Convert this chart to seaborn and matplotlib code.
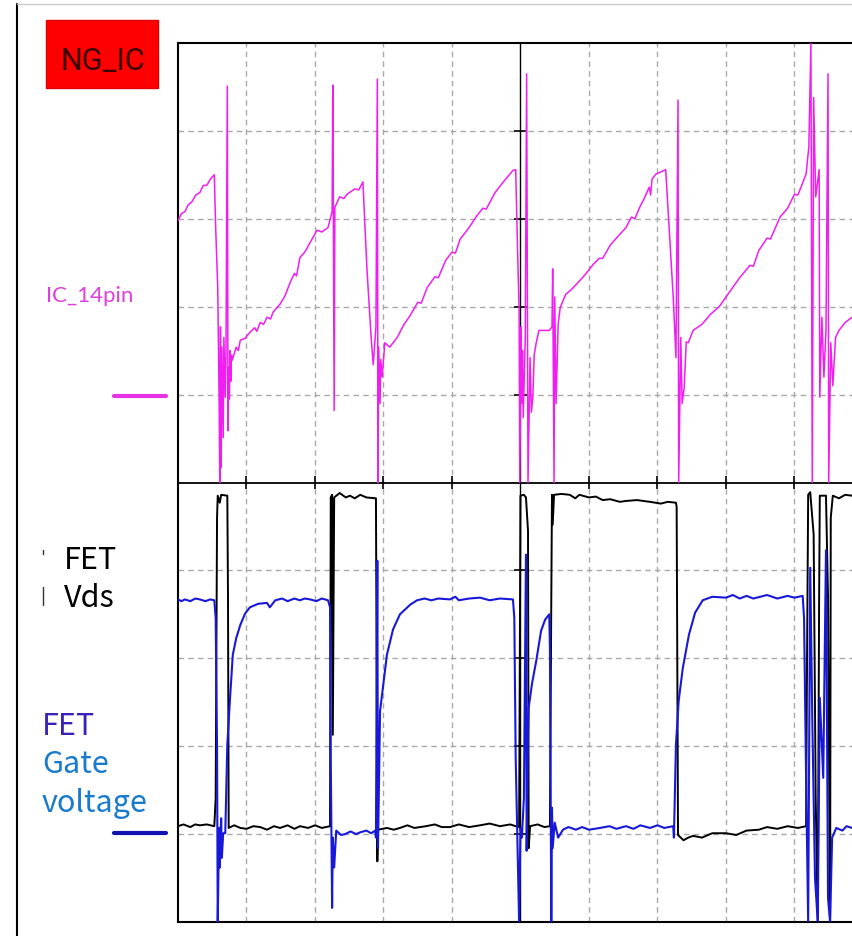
import matplotlib
matplotlib.use("Agg")
import matplotlib.pyplot as plt
from matplotlib.lines import Line2D
from matplotlib.patches import Rectangle
import pandas as pd
import seaborn as sns

# oscilloscope screen, units = divisions (10 x 10 grid, right edge cut off)
grid_t = [1, 2, 3, 4, 6, 7, 8, 9]
grid_v = [-4, -3, -2, -1, 1, 2, 3, 4]

# IC 14pin (magenta), (time div, level div)
ic_points = [
    (0.00, 2.98), (0.05, 3.06), (0.10, 3.08), (0.15, 3.16), (0.20, 3.19), (0.26, 3.27),
    (0.32, 3.30), (0.37, 3.38), (0.42, 3.38), (0.48, 3.46), (0.53, 3.50), (0.55, 2.90),
    (0.58, 2.22), (0.60, 0.97), (0.61, 0.00), (0.62, 1.77), (0.63, 0.17), (0.64, 1.54),
    (0.66, 0.51), (0.67, 1.65), (0.69, 0.97), (0.70, 1.42), (0.72, 4.51), (0.73, 0.59),
    (0.74, 1.31), (0.75, 0.95), (0.76, 1.50), (0.77, 1.15), (0.78, 1.45), (0.79, 1.39),
    (0.85, 1.54), (0.88, 1.50), (0.91, 1.62), (0.98, 1.64), (1.05, 1.71), (1.12, 1.76),
    (1.15, 1.72), (1.20, 1.82), (1.25, 1.80), (1.30, 1.88), (1.35, 1.86), (1.39, 1.94),
    (1.49, 2.03), (1.56, 2.12), (1.64, 2.28), (1.70, 2.38), (1.73, 2.35), (1.78, 2.56),
    (1.85, 2.62), (1.93, 2.73), (2.03, 2.87), (2.10, 2.85), (2.19, 2.90), (2.25, 3.08),
    (2.26, 4.52), (2.28, 0.82), (2.29, 3.13), (2.36, 3.25), (2.42, 3.23), (2.47, 3.28),
    (2.58, 3.34), (2.64, 3.33), (2.70, 3.42), (2.73, 2.90), (2.76, 2.41), (2.82, 1.65),
    (2.85, 1.34), (2.89, 1.77), (2.91, 4.59), (2.92, 0.00), (2.93, 1.54), (2.95, 0.90),
    (2.96, 1.40), (2.98, 1.20), (3.02, 1.59), (3.09, 1.54), (3.20, 1.65), (3.30, 1.80),
    (3.39, 1.90), (3.50, 2.05), (3.55, 2.04), (3.64, 2.22), (3.75, 2.34), (3.80, 2.33),
    (3.91, 2.53), (4.00, 2.62), (4.05, 2.61), (4.12, 2.77), (4.25, 2.90), (4.35, 3.02),
    (4.45, 3.12), (4.50, 3.11), (4.63, 3.30), (4.75, 3.42), (4.89, 3.55), (4.93, 3.56),
    (4.96, 2.56), (4.98, 1.96), (4.99, 0.00), (5.01, 1.77), (5.02, 0.90), (5.03, 1.50),
    (5.04, 0.74), (5.07, 1.65), (5.09, 4.65), (5.11, 0.00), (5.14, 1.42), (5.16, 0.80),
    (5.18, 0.97), (5.20, 1.45), (5.23, 1.59), (5.27, 1.73), (5.42, 1.73), (5.46, 1.77),
    (5.47, 2.43), (5.49, 0.00), (5.50, 2.11), (5.52, 0.90), (5.53, 1.20), (5.55, 1.80),
    (5.58, 1.99), (5.66, 2.14), (5.75, 2.20), (5.87, 2.30), (5.95, 2.37), (6.06, 2.48),
    (6.15, 2.55), (6.20, 2.55), (6.31, 2.70), (6.40, 2.78), (6.54, 2.90), (6.62, 3.02),
    (6.67, 3.00), (6.74, 3.13), (6.80, 3.22), (6.88, 3.36), (6.90, 3.27), (6.92, 3.45),
    (6.98, 3.51), (7.04, 3.53), (7.12, 3.56), (7.17, 2.90), (7.23, 2.11), (7.27, 1.42),
    (7.30, 4.35), (7.31, 0.00), (7.34, 1.65), (7.36, 0.90), (7.39, 1.08), (7.42, 1.60),
    (7.45, 1.59), (7.52, 1.73), (7.65, 1.80), (7.77, 1.91), (7.90, 2.00), (8.00, 2.11),
    (8.10, 2.22), (8.20, 2.33), (8.35, 2.47), (8.40, 2.46), (8.48, 2.64), (8.60, 2.78),
    (8.65, 2.77), (8.79, 3.02), (8.90, 3.12), (9.00, 3.28), (9.05, 3.27), (9.17, 3.51),
    (9.21, 3.82), (9.24, 5.00), (9.26, 0.00), (9.28, 4.38), (9.31, 3.25), (9.36, 3.56),
    (9.37, 0.97), (9.40, 1.88), (9.43, 1.20), (9.46, 1.73), (9.49, 4.65), (9.50, 0.00),
    (9.53, 1.59), (9.56, 1.10), (9.60, 1.65), (9.65, 1.73), (9.74, 1.82), (9.84, 1.88),
]

# FET Vds (black)
vds_points = [
    (0.00, -3.91), (0.08, -3.89), (0.18, -3.92), (0.25, -3.89), (0.32, -3.90), (0.42, -3.89),
    (0.53, -3.91), (0.55, -3.59), (0.57, -0.40), (0.58, -0.15), (0.61, -0.23), (0.63, -0.14),
    (0.72, -0.15), (0.73, -1.31), (0.74, -3.93), (0.82, -3.90), (0.91, -3.93), (1.00, -3.94),
    (1.10, -3.91), (1.20, -3.92), (1.30, -3.95), (1.40, -3.91), (1.49, -3.93), (1.60, -3.90),
    (1.70, -3.94), (1.78, -3.91), (1.90, -3.93), (2.00, -3.90), (2.10, -3.93), (2.22, -3.91),
    (2.23, -0.17), (2.25, -0.14), (2.26, -2.87), (2.28, -0.17), (2.36, -0.12), (2.45, -0.17),
    (2.51, -0.15), (2.58, -0.18), (2.66, -0.14), (2.75, -0.17), (2.89, -0.18), (2.91, -4.31),
    (2.92, -3.95), (3.05, -3.93), (3.15, -3.95), (3.24, -3.93), (3.35, -3.90), (3.45, -3.93),
    (3.62, -3.91), (3.75, -3.89), (3.85, -3.92), (3.97, -3.92), (4.10, -3.89), (4.25, -3.92),
    (4.41, -3.90), (4.55, -3.88), (4.70, -3.91), (4.85, -3.89), (4.93, -3.91), (4.98, -3.92),
    (5.00, -0.15), (5.05, -0.14), (5.08, -0.17), (5.11, -0.55), (5.12, -4.16), (5.14, -3.91),
    (5.25, -3.89), (5.35, -3.92), (5.43, -3.91), (5.45, -1.31), (5.46, -0.14), (5.47, -0.48),
    (5.49, -0.14), (5.60, -0.13), (5.72, -0.14), (5.80, -0.18), (5.86, -0.14), (6.00, -0.17),
    (6.10, -0.16), (6.20, -0.20), (6.31, -0.19), (6.45, -0.22), (6.54, -0.21), (6.70, -0.20),
    (6.89, -0.22), (7.05, -0.24), (7.15, -0.22), (7.27, -0.23), (7.28, -0.28), (7.30, -4.01),
    (7.38, -4.07), (7.45, -4.04), (7.52, -4.02), (7.65, -4.04), (7.80, -3.99), (8.00, -3.99),
    (8.15, -4.01), (8.30, -3.96), (8.48, -3.95), (8.60, -3.92), (8.75, -3.94), (8.90, -3.91),
    (9.05, -3.93), (9.17, -3.91), (9.18, -2.45), (9.20, -0.14), (9.23, -0.11), (9.28, -0.59),
    (9.31, -3.59), (9.34, -5.00), (9.36, -1.31), (9.37, -0.15), (9.46, -0.15), (9.49, -1.31),
    (9.52, -5.00), (9.53, -0.40), (9.56, -0.15), (9.65, -0.18), (9.74, -0.14), (9.84, -0.15),
]

# FET gate voltage (blue)
gate_points = [
    (0.00, -1.33), (0.05, -1.35), (0.10, -1.33), (0.18, -1.35), (0.25, -1.32), (0.32, -1.33),
    (0.40, -1.35), (0.47, -1.33), (0.53, -1.34), (0.55, -1.54), (0.57, -3.02), (0.58, -5.00),
    (0.60, -3.93), (0.61, -4.38), (0.63, -3.82), (0.64, -4.27), (0.66, -3.99), (0.69, -3.99),
    (0.72, -2.98), (0.76, -2.45), (0.80, -1.96), (0.85, -1.77), (0.91, -1.62), (0.98, -1.49),
    (1.05, -1.42), (1.17, -1.38), (1.30, -1.37), (1.34, -1.42), (1.42, -1.34), (1.52, -1.32),
    (1.60, -1.35), (1.70, -1.32), (1.78, -1.34), (1.85, -1.32), (1.93, -1.33), (2.02, -1.35),
    (2.10, -1.32), (2.19, -1.34), (2.22, -1.42), (2.23, -3.13), (2.25, -4.84), (2.26, -4.04),
    (2.28, -4.38), (2.31, -3.96), (2.38, -4.01), (2.44, -4.00), (2.52, -3.97), (2.60, -4.00),
    (2.66, -3.98), (2.75, -3.96), (2.82, -3.99), (2.88, -3.96), (2.89, -4.04), (2.91, -0.89),
    (2.92, -4.16), (2.95, -2.60), (3.01, -2.22), (3.05, -1.96), (3.14, -1.67), (3.24, -1.50),
    (3.39, -1.39), (3.49, -1.34), (3.60, -1.32), (3.70, -1.34), (3.80, -1.32), (3.97, -1.33),
    (4.05, -1.30), (4.10, -1.34), (4.25, -1.32), (4.41, -1.31), (4.55, -1.34), (4.70, -1.32),
    (4.89, -1.33), (4.91, -1.54), (4.93, -3.13), (4.98, -5.00), (5.00, -3.93), (5.02, -4.04),
    (5.05, -3.59), (5.08, -0.82), (5.09, -4.19), (5.11, -2.90), (5.12, -2.56), (5.17, -2.28),
    (5.23, -2.03), (5.30, -1.69), (5.36, -1.56), (5.42, -1.50), (5.43, -1.88), (5.45, -5.00),
    (5.46, -3.70), (5.47, -4.16), (5.50, -3.87), (5.55, -4.04), (5.62, -3.95), (5.70, -3.92),
    (5.81, -3.95), (5.90, -3.92), (6.00, -3.95), (6.16, -3.93), (6.30, -3.91), (6.40, -3.94),
    (6.54, -3.91), (6.65, -3.94), (6.75, -3.90), (6.89, -3.93), (7.00, -3.90), (7.10, -3.93),
    (7.23, -3.91), (7.24, -4.04), (7.27, -2.98), (7.31, -2.48), (7.37, -2.11), (7.46, -1.73),
    (7.55, -1.48), (7.66, -1.34), (7.80, -1.30), (8.00, -1.31), (8.10, -1.28), (8.20, -1.32),
    (8.30, -1.29), (8.40, -1.32), (8.50, -1.30), (8.60, -1.28), (8.75, -1.32), (8.90, -1.29),
    (9.00, -1.31), (9.12, -1.29), (9.14, -1.54), (9.17, -3.36), (9.20, -5.00), (9.23, -0.97),
    (9.26, -2.68), (9.30, -4.50), (9.34, -5.00), (9.37, -2.45), (9.42, -3.36), (9.46, -0.77),
    (9.49, -4.73), (9.52, -5.00), (9.55, -4.04), (9.61, -3.93), (9.70, -3.96), (9.76, -3.91),
    (9.84, -3.93),
]

sns.set_style("white")
jp = ["Noto Sans CJK JP", "DejaVu Sans"]

W, H = 852, 937
fig = plt.figure(figsize=(W / 100, H / 100), dpi=100)
fig.patch.set_facecolor("white")


def fx(px):
    return px / W


def fy(py):
    return 1 - py / H


ax = fig.add_axes([fx(178), fy(923), fx(852) - fx(178), fy(44) - fy(923)])
ax.set_xlim(0, 9.84)
ax.set_ylim(-5, 5)

# graticule
for t in grid_t:
    ax.axvline(t, color="#a9a9a9", lw=1.0, ls=(0, (4, 3)), zorder=1)
for v in grid_v:
    ax.axhline(v, color="#a9a9a9", lw=1.0, ls=(0, (4, 3)), zorder=1)
ax.axvline(5, color="black", lw=1.0, zorder=1)
ax.axhline(0, color="black", lw=1.3, zorder=1)
ax.vlines(grid_t, -0.07, 0.07, color="black", lw=1.2, zorder=1)
ax.hlines(grid_v, 4.9, 5.1, color="black", lw=1.2, zorder=1)

traces = [
    (vds_points, "black", 1.4),
    (gate_points, "#1818d8", 1.5),
    (ic_points, "#f01ef0", 1.1),
]
for pts, col, lw in traces:
    df = pd.DataFrame(pts, columns=["t", "v"])
    sns.lineplot(data=df, x="t", y="v", sort=False, estimator=None, color=col,
                 lw=lw, ax=ax, zorder=3)

ax.set_xticks([])
ax.set_yticks([])
ax.set_xlabel("")
ax.set_ylabel("")
for side in ["left", "top", "bottom"]:
    ax.spines[side].set_color("black")
    ax.spines[side].set_linewidth(1.5)
ax.spines["right"].set_visible(False)

# page frame
fig.add_artist(Line2D([fx(17), fx(17)], [fy(5), 0], color="black", lw=1.5))
fig.add_artist(Line2D([fx(17), 1], [fy(5), fy(5)], color="#c8c8c8", lw=1.0))

# NG_IC box
fig.add_artist(Rectangle((fx(46), fy(89)), fx(158) - fx(46), fy(21) - fy(89),
                         facecolor="#ff0000", edgecolor="#e00000", lw=1.0))
fig.text(fx(103), fy(70), "NG_IC", family="Roboto", fontsize=22, color="#3a0000",
         ha="center", va="baseline")

# channel labels and ground markers
fig.text(fx(46), fy(302), "IC_14pin", family="Lato", fontsize=16, color="#dd40dd",
         va="baseline")
fig.add_artist(Line2D([fx(114), fx(166)], [fy(397), fy(397)], color="#e533e5", lw=3.0))

fig.text(fx(64), fy(569), "FET", family=jp, fontsize=22, color="black", va="baseline")
fig.text(fx(64), fy(607), "Vds", family=jp, fontsize=22, color="black", va="baseline")
fig.add_artist(Line2D([fx(43), fx(43)], [fy(588), fy(606)], color="#333333", lw=1.0))
fig.add_artist(Line2D([fx(43), fx(43)], [fy(551), fy(555)], color="#333333", lw=1.0))

fig.text(fx(42), fy(735), "FET", family=jp, fontsize=22, color="#3a22b8", va="baseline")
fig.text(fx(42), fy(773), "Gate", family=jp, fontsize=22, color="#1a7acc", va="baseline")
fig.text(fx(42), fy(812), "voltage", family=jp, fontsize=22, color="#1a7acc", va="baseline")
fig.add_artist(Line2D([fx(114), fx(166)], [fy(834), fy(834)], color="#1212b0", lw=3.0))

fig.savefig("out.png", dpi=100)
